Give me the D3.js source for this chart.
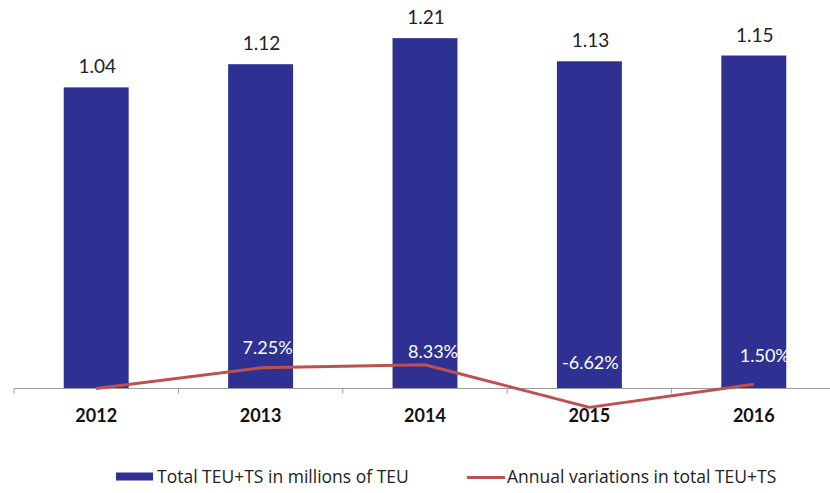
<!DOCTYPE html>
<html>
<head>
<meta charset="utf-8">
<script src="https://cdn.jsdelivr.net/npm/d3@7/dist/d3.min.js"></script>
<style>
  html, body { margin: 0; padding: 0; background: #fff; }
  svg { display: block; font-family: Lato, "Open Sans", sans-serif; }
</style>
</head>
<body>
<svg id="chart" width="830" height="493"></svg>
<script>
// Container traffic, 2012–2016
const years = ["2012", "2013", "2014", "2015", "2016"];
const teuMillions = [1.04, 1.12, 1.21, 1.13, 1.15];
const annualVariation = [0, 7.25, 8.33, -6.62, 1.50];
const variationLabels = [null, "7.25%", "8.33%", "-6.62%", "1.50%"];
const legendLabels = ["Total TEU+TS in millions of TEU", "Annual variations in total TEU+TS"];

// label nudges for the variation labels (dx, dy from the point)
const variationLabelOffsets = [[0, 0], [7, -14], [8, -7], [1, -38], [11, -22]];

const barColor = "#2e3192";
const lineColor = "#c0504d";

const svg = d3.select("#chart");
const baseY = 388.5;

const x = d3.scaleBand()
  .domain(years)
  .range([14, 836])
  .paddingInner(0.605)
  .paddingOuter(0.3025);

const yBar = d3.scaleLinear().domain([0, 1.34]).range([baseY, 0.5]);
const yLine = d3.scaleLinear().domain([-10, 10]).range([baseY + 28.5, baseY - 28.5]);

const cx = d => x(d) + x.bandwidth() / 2;

// bars
svg.append("g")
  .selectAll("rect")
  .data(years)
  .join("rect")
  .attr("x", d => x(d))
  .attr("width", x.bandwidth())
  .attr("y", (d, i) => yBar(teuMillions[i]))
  .attr("height", (d, i) => baseY - yBar(teuMillions[i]))
  .attr("fill", barColor);

// bar value labels
svg.append("g")
  .selectAll("text")
  .data(years)
  .join("text")
  .attr("x", d => cx(d) + 1)
  .attr("y", (d, i) => yBar(teuMillions[i]) - 14)
  .attr("text-anchor", "middle")
  .attr("font-size", 19)
  .attr("fill", "#222")
  .text((d, i) => teuMillions[i].toFixed(2));

// category axis
const axis = svg.append("g");
axis.append("line")
  .attr("x1", 14).attr("x2", 830)
  .attr("y1", baseY).attr("y2", baseY)
  .attr("stroke", "#9a9a9a").attr("stroke-width", 1);
const step = x.step();
axis.selectAll("line.tick")
  .data(d3.range(years.length + 1))
  .join("line")
  .attr("class", "tick")
  .attr("x1", i => 14 + i * step).attr("x2", i => 14 + i * step)
  .attr("y1", baseY).attr("y2", baseY + 5)
  .attr("stroke", "#9a9a9a");
axis.selectAll("text")
  .data(years)
  .join("text")
  .attr("x", d => cx(d))
  .attr("y", 422)
  .attr("text-anchor", "middle")
  .attr("font-size", 18)
  .attr("font-weight", "bold")
  .attr("fill", "#111")
  .text(d => d);

// annual variation line
const line = d3.line()
  .x((d, i) => cx(years[i]))
  .y(d => yLine(d));

svg.append("path")
  .datum(annualVariation)
  .attr("d", line)
  .attr("fill", "none")
  .attr("stroke", lineColor)
  .attr("stroke-width", 3)
  .attr("stroke-linejoin", "round");

// variation labels
svg.append("g")
  .selectAll("text")
  .data(years.filter((d, i) => variationLabels[i] !== null))
  .join("text")
  .attr("x", d => cx(d) + variationLabelOffsets[years.indexOf(d)][0])
  .attr("y", d => yLine(annualVariation[years.indexOf(d)]) + variationLabelOffsets[years.indexOf(d)][1])
  .attr("text-anchor", "middle")
  .attr("font-size", 18)
  .attr("fill", "#ffffff")
  .text(d => variationLabels[years.indexOf(d)]);

// legend
const legend = svg.append("g")
  .attr("font-family", "'Open Sans', Lato, sans-serif")
  .attr("font-size", 17.5)
  .attr("fill", "#222");
legend.append("rect")
  .attr("x", 116).attr("y", 472.5)
  .attr("width", 37).attr("height", 8)
  .attr("fill", barColor);
legend.append("text")
  .attr("x", 157).attr("y", 482.5)
  .text(legendLabels[0]);
legend.append("line")
  .attr("x1", 467).attr("x2", 505)
  .attr("y1", 477.5).attr("y2", 477.5)
  .attr("stroke", lineColor).attr("stroke-width", 3);
legend.append("text")
  .attr("x", 507).attr("y", 482.5)
  .text(legendLabels[1]);
</script>
</body>
</html>
